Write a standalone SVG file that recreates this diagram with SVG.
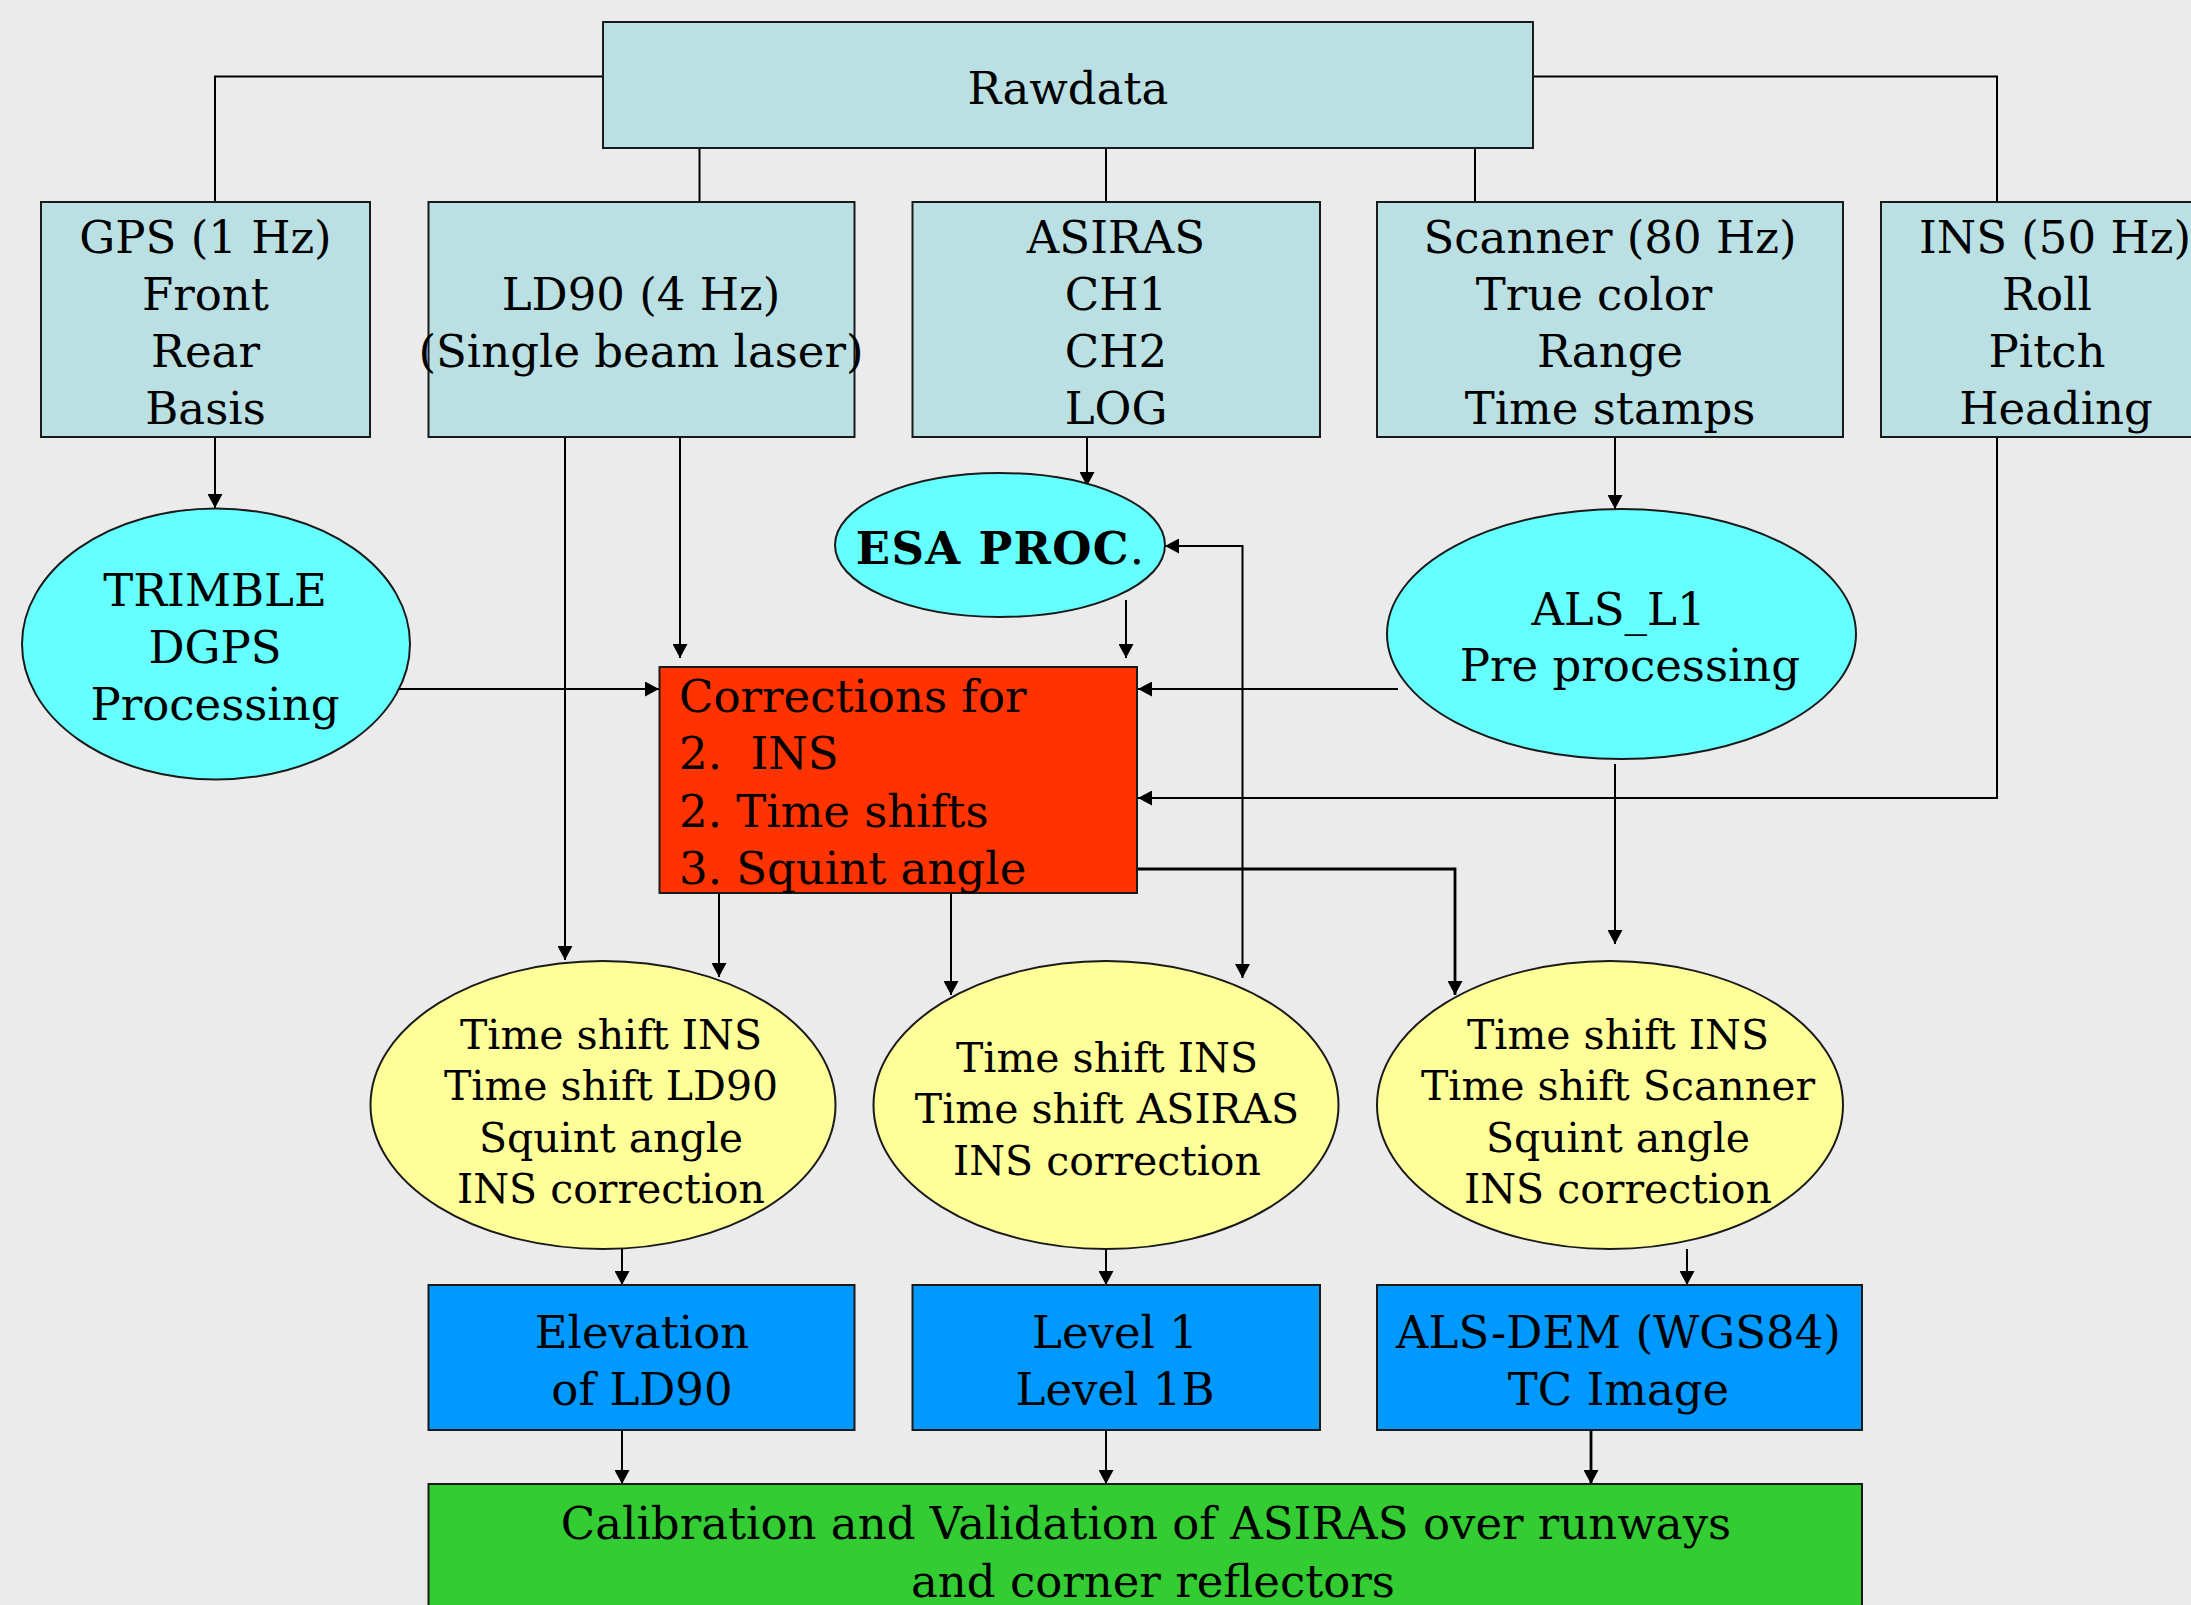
<svg xmlns="http://www.w3.org/2000/svg" width="2191" height="1605" viewBox="0 0 2191 1605">
<defs>
<marker id="ah" markerUnits="userSpaceOnUse" markerWidth="15" markerHeight="15" refX="14" refY="7.5" orient="auto-start-reverse" viewBox="0 0 15 15">
<path d="M0,0 L14,7.5 L0,15 z" fill="#000"/>
</marker>
</defs>
<style>
.bg{fill:#EBEBEB}
.raw{fill:#BBE0E3;stroke:#1a1a1a;stroke-width:2}
.cy{fill:#66FFFF;stroke:#1a1a1a;stroke-width:2}
.red{fill:#FF3300;stroke:#1a1a1a;stroke-width:2}
.yel{fill:#FFFF99;stroke:#1a1a1a;stroke-width:2}
.blu{fill:#0099FF;stroke:#1a1a1a;stroke-width:2}
.grn{fill:#33CC33;stroke:#1a1a1a;stroke-width:2}
text{font-family:"DejaVu Serif","Liberation Serif",serif;font-size:45px;fill:#000;text-anchor:middle}
.sm{font-size:41px}
.lt{text-anchor:start}
.c line,.c path{stroke:#000;stroke-width:2;fill:none}
.c .a{marker-end:url(#ah)}
.c .t{stroke-width:2.8}
</style>
<rect class="bg" x="0" y="0" width="2191" height="1605"/>

<g class="c" id="connectors">
<path d="M603,76.5 H215 V202"/>
<line x1="699.5" y1="148" x2="699.5" y2="202"/>
<line x1="1106" y1="148" x2="1106" y2="202"/>
<line x1="1475" y1="148" x2="1475" y2="202"/>
<path d="M1533,76.5 H1997 V202"/>
<line class="a" x1="215" y1="437" x2="215" y2="508"/>
<line class="a" x1="565" y1="437" x2="565" y2="960"/>
<line class="a" x1="680" y1="437" x2="680" y2="658"/>
<line class="a" x1="1087" y1="437" x2="1087" y2="486"/>
<line class="a" x1="1126" y1="600" x2="1126" y2="658"/>
<path class="a" style="marker-start:url(#ah)" d="M1165,546 H1242.5 V978"/>
<line class="a" x1="398" y1="689" x2="659" y2="689"/>
<line class="a" x1="1398" y1="689" x2="1138" y2="689"/>
<path class="a" d="M1997,437 V798 H1138"/>
<line class="a" x1="1615" y1="437" x2="1615" y2="509"/>
<line class="a" x1="1615" y1="764" x2="1615" y2="944"/>
<line class="a" x1="719" y1="893" x2="719" y2="977"/>
<line class="a" x1="951" y1="893" x2="951" y2="995"/>
<path class="a t" d="M1137,869 H1455 V995"/>
<line class="a" x1="622" y1="1249" x2="622" y2="1285"/>
<line class="a" x1="1106" y1="1249" x2="1106" y2="1285"/>
<line class="a" x1="1687" y1="1249" x2="1687" y2="1285"/>
<line class="a" x1="622" y1="1430" x2="622" y2="1484"/>
<line class="a" x1="1106" y1="1430" x2="1106" y2="1484"/>
<line class="a t" x1="1591" y1="1430" x2="1591" y2="1484"/>
</g>

<g id="rawdata">
<rect class="raw" x="603" y="22" width="930" height="126"/>
<text x="1068" y="104">Rawdata</text>
</g>

<g id="gps">
<rect class="raw" x="41" y="202" width="329" height="235"/>
<text x="205.5" y="253">GPS (1 Hz)</text>
<text x="205.5" y="310">Front</text>
<text x="205.5" y="367">Rear</text>
<text x="205.5" y="424">Basis</text>
</g>

<g id="ld90">
<rect class="raw" x="428.5" y="202" width="426" height="235"/>
<text x="641" y="310">LD90 (4 Hz)</text>
<text x="641" y="367">(Single beam laser)</text>
</g>

<g id="asiras">
<rect class="raw" x="912.5" y="202" width="407.5" height="235"/>
<text x="1116" y="253">ASIRAS</text>
<text x="1116" y="310">CH1</text>
<text x="1116" y="367">CH2</text>
<text x="1116" y="424">LOG</text>
</g>

<g id="scanner">
<rect class="raw" x="1377" y="202" width="466" height="235"/>
<text x="1610" y="253">Scanner (80 Hz)</text>
<text x="1594" y="310">True color</text>
<text x="1610" y="367">Range</text>
<text x="1610" y="424">Time stamps</text>
</g>

<g id="ins">
<rect class="raw" x="1881" y="202" width="340" height="235"/>
<text x="2055" y="253">INS (50 Hz)</text>
<text x="2047" y="310">Roll</text>
<text x="2047" y="367">Pitch</text>
<text x="2056" y="424">Heading</text>
</g>

<g id="trimble">
<ellipse class="cy" cx="216" cy="644" rx="194" ry="135.5"/>
<text x="215" y="606">TRIMBLE</text>
<text x="215" y="663">DGPS</text>
<text x="215" y="720">Processing</text>
</g>

<g id="esaproc">
<ellipse class="cy" cx="1000" cy="545" rx="165" ry="72"/>
<text x="1000" y="564"><tspan font-weight="bold" letter-spacing="1.3">ESA PROC</tspan>.</text>
</g>

<g id="als_l1">
<ellipse class="cy" cx="1621.5" cy="634" rx="234.5" ry="125"/>
<text x="1618.5" y="625">ALS_L1</text>
<text x="1630" y="681">Pre processing</text>
</g>

<g id="corrections">
<rect class="red" x="659.5" y="667" width="477.5" height="226"/>
<text class="lt" x="679" y="712">Corrections for</text>
<text class="lt" x="679" y="769" xml:space="preserve">2.  INS</text>
<text class="lt" x="679" y="827">2. Time shifts</text>
<text class="lt" x="679" y="884">3. Squint angle</text>
</g>

<g id="ts_ld90">
<ellipse class="yel" cx="603" cy="1105" rx="232.5" ry="144"/>
<text class="sm" x="611" y="1049">Time shift INS</text>
<text class="sm" x="611" y="1100">Time shift LD90</text>
<text class="sm" x="611" y="1152">Squint angle</text>
<text class="sm" x="611" y="1203">INS correction</text>
</g>

<g id="ts_asiras">
<ellipse class="yel" cx="1106" cy="1105" rx="232.5" ry="144"/>
<text class="sm" x="1107" y="1072">Time shift INS</text>
<text class="sm" x="1107" y="1123">Time shift ASIRAS</text>
<text class="sm" x="1107" y="1175">INS correction</text>
</g>

<g id="ts_scanner">
<ellipse class="yel" cx="1610" cy="1105" rx="233" ry="144"/>
<text class="sm" x="1618" y="1049">Time shift INS</text>
<text class="sm" x="1618" y="1100">Time shift Scanner</text>
<text class="sm" x="1618" y="1152">Squint angle</text>
<text class="sm" x="1618" y="1203">INS correction</text>
</g>

<g id="elevation">
<rect class="blu" x="428.5" y="1285" width="426" height="145"/>
<text x="642" y="1348">Elevation</text>
<text x="642" y="1405">of LD90</text>
</g>

<g id="level1">
<rect class="blu" x="912.5" y="1285" width="407.5" height="145"/>
<text x="1115" y="1348">Level 1</text>
<text x="1115" y="1405">Level 1B</text>
</g>

<g id="alsdem">
<rect class="blu" x="1377" y="1285" width="485" height="145"/>
<text x="1618.5" y="1348">ALS-DEM (WGS84)</text>
<text x="1618.5" y="1405">TC Image</text>
</g>

<g id="calval">
<rect class="grn" x="428.5" y="1484" width="1433.5" height="140"/>
<text x="1146" y="1539">Calibration and Validation of ASIRAS over runways</text>
<text x="1153" y="1597">and corner reflectors</text>
</g>
</svg>
